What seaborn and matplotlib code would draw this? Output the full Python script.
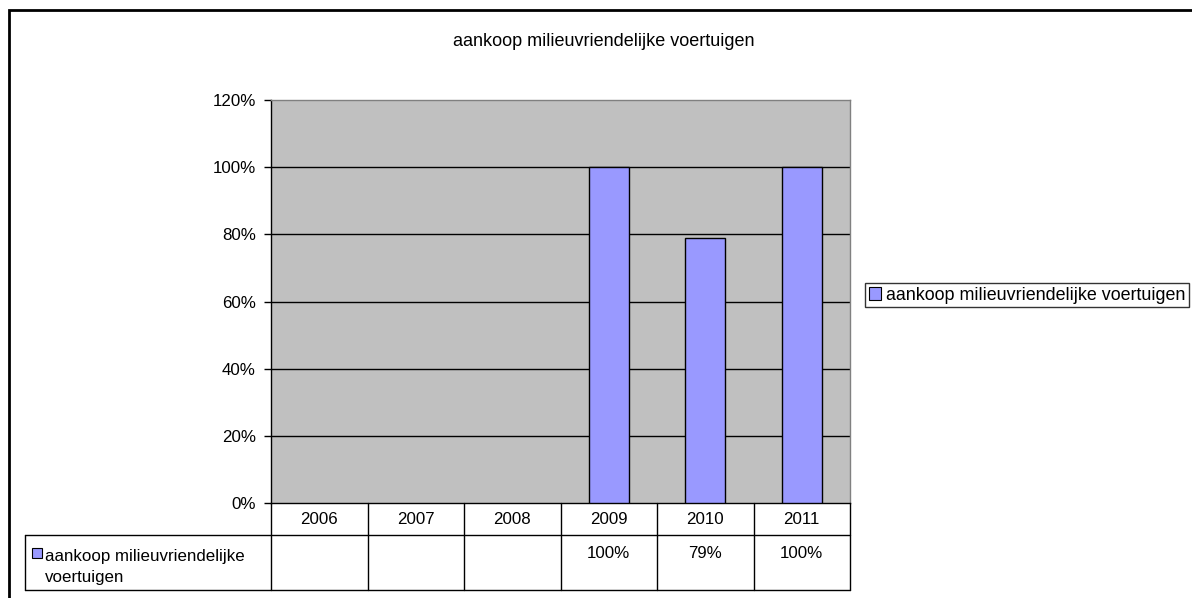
import numpy as np
import pandas as pd
import matplotlib
matplotlib.use("Agg")
import matplotlib.pyplot as plt
import matplotlib.transforms as mtransforms
from matplotlib.patches import Rectangle
import seaborn as sns

# data
years = ["2006", "2007", "2008", "2009", "2010", "2011"]
values = [np.nan, np.nan, np.nan, 100, 79, 100]
series_name = "aankoop milieuvriendelijke voertuigen"
table_labels = ["", "", "", "100%", "79%", "100%"]
y_ticks = [0, 20, 40, 60, 80, 100, 120]

sns.set_theme(style="white")
plt.rcParams['font.family'] = ['Liberation Sans', 'DejaVu Sans']
plt.rcParams['text.color'] = 'black'
plt.rcParams['ytick.labelcolor'] = 'black'

W, H = 1192, 598
fig = plt.figure(figsize=(W / 100, H / 100), dpi=100)


def fx(px):
    return px / W


def fy(py):
    return 1 - py / H


# plot area in pixels
left, right, top, bottom = 271, 850, 100, 503
ax = fig.add_axes([fx(left), fy(bottom), fx(right) - fx(left), fy(top) - fy(bottom)])
ax.set_facecolor("#C0C0C0")

df = pd.DataFrame({"year": years, "value": values})
sns.barplot(data=df, x="year", y="value", ax=ax, color="#9999FF", width=0.41,
            edgecolor="black", linewidth=1, saturation=1, zorder=3)

ax.set_ylim(0, 120)
ax.set_xlim(-0.5, len(years) - 0.5)
ax.set_yticks(y_ticks)
ax.set_yticklabels([f"{t}%" for t in y_ticks], fontsize=12.2)
ax.set_xticks([])
ax.set_xlabel("")
ax.set_ylabel("")
for t in y_ticks[1:-1]:
    ax.axhline(t, color="black", linewidth=1, zorder=1)
ax.tick_params(axis="y", which="both", left=True, length=5, width=1, color="black", pad=6)
ax.spines["left"].set_color("black")
ax.spines["bottom"].set_color("black")
ax.spines["top"].set_color("#808080")
ax.spines["right"].set_color("#808080")
for s in ax.spines.values():
    s.set_linewidth(1)

fig.text(fx(604), fy(42), series_name, ha="center", va="center", fontsize=13)

# data table below the plot
trans = mtransforms.blended_transform_factory(ax.transData, fig.transFigure)
row1_bot, row2_bot, label_left = 535, 590, 25
line_kw = dict(color="black", linewidth=1, transform=fig.transFigure, clip_on=False)
fig.add_artist(plt.Line2D([fx(left), fx(left)], [fy(bottom), fy(row2_bot)], **line_kw))
fig.add_artist(plt.Line2D([fx(label_left), fx(right)], [fy(row1_bot), fy(row1_bot)], **line_kw))
fig.add_artist(plt.Line2D([fx(label_left), fx(right)], [fy(row2_bot), fy(row2_bot)], **line_kw))
fig.add_artist(plt.Line2D([fx(label_left), fx(label_left)], [fy(row1_bot), fy(row2_bot)], **line_kw))
for i in range(len(years)):
    xb = i + 0.5
    fig.add_artist(plt.Line2D([xb, xb], [fy(bottom), fy(row2_bot)], color="black",
                              linewidth=1, clip_on=False, transform=trans))
    ax.text(i, fy((bottom + row1_bot) / 2), years[i], transform=trans,
            ha="center", va="center", fontsize=12.2)
    ax.text(i, fy(546), table_labels[i], transform=trans,
            ha="center", va="top", fontsize=12.2)

fig.add_artist(Rectangle((fx(32), fy(558)), fx(10), fy(548) - fy(558),
                         transform=fig.transFigure, facecolor="#9999FF", edgecolor="black",
                         linewidth=0.8))
fig.text(fx(45), fy(567), "aankoop milieuvriendelijke\nvoertuigen", ha="left", va="center",
         fontsize=12.2, linespacing=1.45)

# legend
handle = Rectangle((0, 0), 1, 1, facecolor="#9999FF", edgecolor="black", linewidth=0.8)
leg = fig.legend([handle], [series_name], loc="center left",
                 bbox_to_anchor=(fx(865), fy(295)), fontsize=12.9, frameon=True,
                 fancybox=False, handlelength=0.7, handleheight=0.7, handletextpad=0.3,
                 borderpad=0.2, borderaxespad=0)
leg.get_frame().set_edgecolor("black")
leg.get_frame().set_linewidth(1)

# outer chart border
fig.add_artist(Rectangle((fx(9), fy(H + 5)), fx(W + 10), fy(10) - fy(H + 5),
                         transform=fig.transFigure, facecolor="none", edgecolor="black",
                         linewidth=2, clip_on=False))

fig.savefig("out.png", dpi=100)
